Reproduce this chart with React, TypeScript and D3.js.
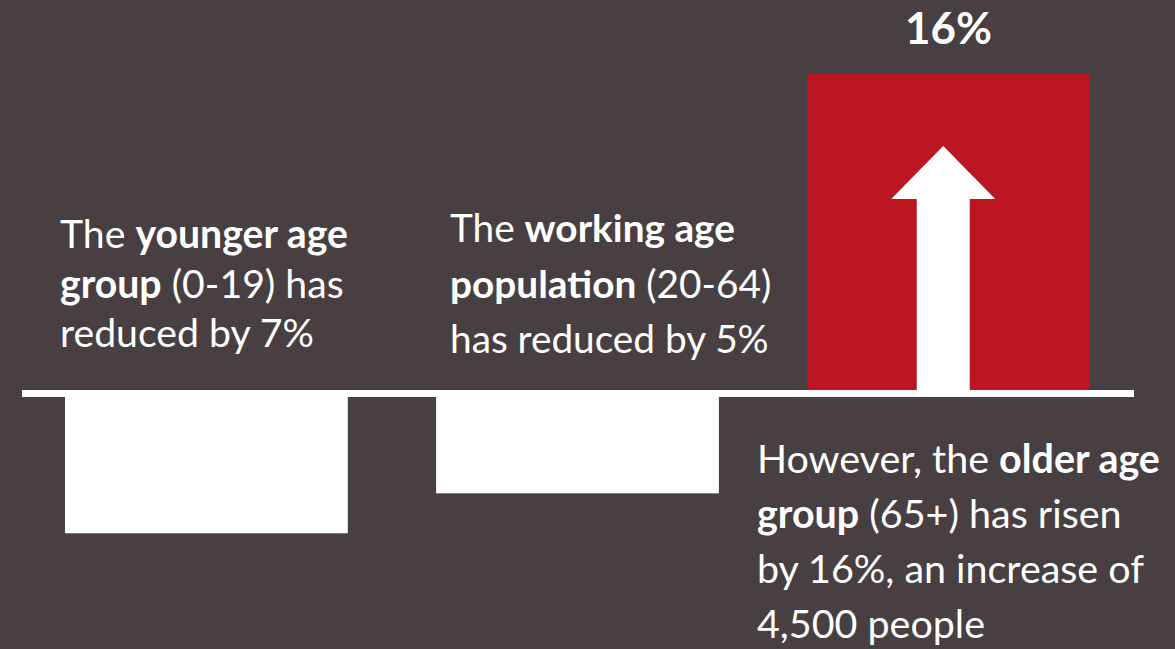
import { useEffect, useRef } from 'react';
import * as d3 from 'd3';

const W = 1175;
const H = 649;

// age groups and the change in population (%)
const categories = ['0-19', '20-64', '65+'];
const changes = [-7, -5, 16];

type Seg = { t: string; b?: boolean };

const youngText: Seg[][] = [
  [{ t: 'The ' }, { t: 'younger age', b: true }],
  [{ t: 'group', b: true }, { t: ' (0-19) has' }],
  [{ t: 'reduced by 7%' }],
];
const workingText: Seg[][] = [
  [{ t: 'The ' }, { t: 'working age', b: true }],
  [{ t: 'population', b: true }, { t: ' (20-64)' }],
  [{ t: 'has reduced by 5%' }],
];
const olderText: Seg[][] = [
  [{ t: 'However, the ' }, { t: 'older age', b: true }],
  [{ t: 'group', b: true }, { t: ' (65+) has risen' }],
  [{ t: 'by 16%, an increase of' }],
  [{ t: '4,500 people' }],
];

const BG = '#483f42';
const RED = '#bc1622';
const FONT = "Lato, 'Open Sans', sans-serif";

export default function App() {
  const svgRef = useRef<SVGSVGElement>(null);

  useEffect(() => {
    if (!svgRef.current) return;
    const svg = d3.select(svgRef.current);
    svg.selectAll('*').remove();

    svg.append('rect').attr('width', W).attr('height', H).attr('fill', BG);

    const x = d3.scaleBand<string>()
      .domain(categories)
      .range([65, 1090])
      .paddingInner(0.238)
      .paddingOuter(0);

    const y = d3.scaleLinear().domain([0, 16]).range([393.5, 74]);

    const bars = categories.map((c, i) => ({ c, v: changes[i] }));

    svg.append('g')
      .selectAll('rect')
      .data(bars)
      .join('rect')
      .attr('x', d => x(d.c)!)
      .attr('width', x.bandwidth())
      .attr('y', d => Math.min(y(d.v), y(0)))
      .attr('height', d => Math.abs(y(d.v) - y(0)))
      .attr('fill', d => (d.v > 0 ? RED : '#ffffff'));

    // arrow inside the rising bar
    bars.filter(d => d.v > 0).forEach(d => {
      const bx = x(d.c)!;
      const bw = x.bandwidth();
      const top = y(d.v);
      const h = y(0) - top;
      const cx = bx + bw * 0.481;
      const tip = top + h * 0.225;
      const headH = 53;
      const headW = 52;
      const shaftW = 26.5;
      const pts: [number, number][] = [
        [cx, tip],
        [cx + headW, tip + headH],
        [cx + shaftW, tip + headH],
        [cx + shaftW, y(0)],
        [cx - shaftW, y(0)],
        [cx - shaftW, tip + headH],
        [cx - headW, tip + headH],
      ];
      svg.append('path')
        .attr('d', d3.line()(pts) + 'Z')
        .attr('fill', '#ffffff');

      const lbl = svg.append('text')
        .attr('x', bx + bw / 2)
        .attr('y', 44)
        .attr('text-anchor', 'middle')
        .attr('font-family', FONT)
        .attr('font-weight', 700)
        .attr('font-size', 40)
        .attr('fill', '#ffffff')
        .text(`${d.v}%`);
      const w = (lbl.node() as SVGTextElement).getComputedTextLength();
      lbl.attr('font-size', 40 * 87 / w);
    });

    // baseline
    svg.append('line')
      .attr('x1', 22)
      .attr('x2', 1134)
      .attr('y1', y(0))
      .attr('y2', y(0))
      .attr('stroke', '#ffffff')
      .attr('stroke-width', 7);

    const block = (lines: Seg[][], left: number, baselines: number[], target: number) => {
      const g = svg.append('g')
        .attr('font-family', FONT)
        .attr('font-size', 36)
        .attr('fill', '#ffffff')
        .style('white-space', 'pre');
      lines.forEach((segs, i) => {
        const t = g.append('text').attr('x', left).attr('y', baselines[i]);
        segs.forEach(s => {
          t.append('tspan')
            .attr('font-weight', s.b ? 700 : 400)
            .text(s.t);
        });
      });
      const first = g.select('text').node() as SVGTextElement;
      const w = first.getComputedTextLength();
      g.attr('font-size', 36 * target / w);
    };

    block(youngText, 60, [248, 297.5, 347], 288);
    block(workingText, 450, [242, 297.5, 353], 285);
    block(olderText, 757, [473, 528, 583, 638], 403);
  }, []);

  return (
    <svg
      ref={svgRef}
      width={W}
      height={H}
      viewBox={`0 0 ${W} ${H}`}
      style={{ position: 'fixed', left: 0, top: 0, display: 'block' }}
    />
  );
}
